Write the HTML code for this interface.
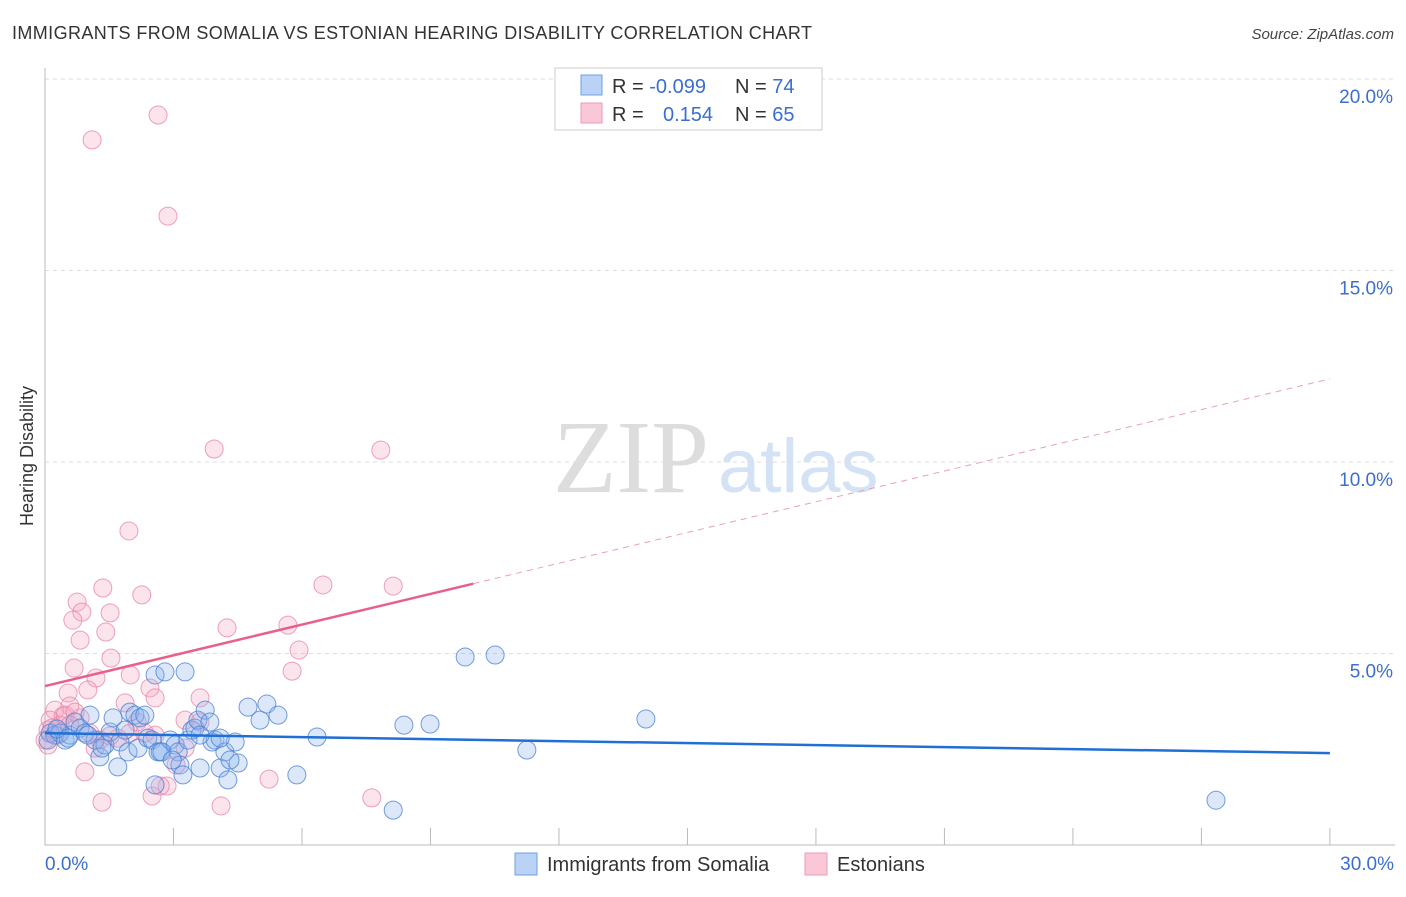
<!DOCTYPE html>
<html><head><meta charset="utf-8"><style>
body{margin:0;background:#fff;font-family:"Liberation Sans",sans-serif;}
</style></head><body>
<svg width="1406" height="892" xmlns="http://www.w3.org/2000/svg" id="chart" style="font-family:'Liberation Sans',sans-serif">
<text x="12" y="39" font-size="18" fill="#333" textLength="800">IMMIGRANTS FROM SOMALIA VS ESTONIAN HEARING DISABILITY CORRELATION CHART</text>
<text x="1394" y="39" font-size="15" fill="#444" text-anchor="end" font-style="italic">Source: ZipAtlas.com</text>
<text x="553" y="492" font-size="104" font-family="Liberation Serif,serif" fill="#ddd">ZIP</text>
<text x="718" y="492" font-size="76" fill="#d3e2f5">atlas</text>
<text transform="translate(33,456) rotate(-90)" font-size="18" fill="#333" text-anchor="middle">Hearing Disability</text>
<g id="grid"></g><g id="ticks"></g><g id="pts"></g><g id="trend"></g>
<g>
<rect x="555" y="68" width="267" height="62" fill="#fff" stroke="#ccc"/>
<rect x="581" y="75" width="21" height="20" fill="#b9d2f5" stroke="#6f9fe0"/>
<rect x="581" y="103" width="21" height="20" fill="#f9c7d6" stroke="#ee9ab4"/>
<text x="612" y="93" font-size="20" fill="#333">R = <tspan fill="#3a6fd0">-0.099</tspan><tspan x="735">N = </tspan><tspan fill="#3a6fd0">74</tspan></text>
<text x="612" y="121" font-size="20" fill="#333">R = <tspan x="663" fill="#3a6fd0">0.154</tspan><tspan x="735">N = </tspan><tspan fill="#3a6fd0">65</tspan></text>
</g>
<g>
<rect x="515" y="853" width="22" height="22" fill="#b9d2f5" stroke="#6f9fe0"/>
<text x="547" y="871" font-size="20" fill="#333">Immigrants from Somalia</text>
<rect x="805" y="853" width="22" height="22" fill="#f9c7d6" stroke="#ee9ab4"/>
<text x="837" y="871" font-size="20" fill="#333">Estonians</text>
</g>
</svg>
<script>
const blueX=[0.12,0.23,0.35,0.47,0.58,0.70,0.82,0.93,1.05,1.17,1.28,1.40,1.52,1.59,1.70,1.75,1.94,1.98,2.10,2.17,2.22,2.33,2.40,2.50,2.57,2.57,2.64,2.69,2.80,2.92,3.04,3.11,3.15,3.22,3.27,3.34,3.43,3.50,3.57,3.62,3.74,3.85,3.90,3.97,4.09,4.20,4.27,4.44,4.51,4.74,5.02,5.18,5.44,5.88,6.35,8.13,8.38,8.99,9.81,10.51,11.25,14.03,27.34,0.07,0.28,0.54,1.00,1.33,1.87,2.73,2.97,3.62,4.09,4.32];
const blueY=[2.92,2.87,2.92,2.74,2.87,3.21,3.05,2.92,3.39,2.74,2.30,2.61,2.95,3.32,2.04,2.69,2.43,3.47,3.39,2.53,3.32,3.39,2.79,2.74,4.44,1.57,2.43,2.43,4.52,2.74,2.61,2.43,2.09,1.83,4.52,2.74,3.00,3.05,3.26,2.01,3.52,3.21,2.69,2.74,2.01,2.43,1.70,2.69,2.14,3.60,3.26,3.68,3.39,1.83,2.82,0.91,3.13,3.16,4.91,4.96,2.48,3.29,1.17,2.74,3.03,2.79,2.87,2.53,3.00,2.43,2.22,2.87,2.79,2.22];
const pinkX=[1.10,2.64,2.87,3.95,7.84,1.96,1.35,2.26,6.49,8.13,0.75,0.86,1.52,0.65,4.25,5.67,0.82,1.42,5.93,1.54,0.68,5.77,1.19,1.99,2.45,1.00,0.54,2.57,3.62,1.87,0.58,0.23,0.42,0.12,0.35,0.07,0.82,3.27,2.15,1.05,1.98,1.28,0.07,1.70,2.57,3.27,1.17,0.93,3.06,5.23,2.85,2.50,1.33,4.11,7.63,0.47,0.70,0.30,0.00,2.33,1.52,3.62,2.69,0.16,0.58];
const pinkY=[18.41,19.06,16.42,10.34,10.31,8.20,6.71,6.53,6.79,6.76,6.34,6.08,6.06,5.87,5.67,5.74,5.35,5.56,5.09,4.88,4.62,4.54,4.36,4.44,4.10,4.05,3.97,3.84,3.84,3.71,3.63,3.52,3.37,3.26,3.13,3.00,3.32,3.26,3.21,2.92,2.92,2.74,2.61,2.79,2.87,2.53,2.53,1.91,2.09,1.72,1.54,1.28,1.12,1.02,1.23,3.39,3.47,2.87,2.74,2.92,2.85,3.21,1.54,3.05,3.13];
const yTicks=[5,10,15,20];
const xTicks=[0,3,6,9,12,15,18,21,24,27,30];
const blueTrend=[2.92,2.40];
const pinkTrend=[4.15,12.17];
const pinkSolidEnd=10;
const sx=v=>45+v*42.83, sy=v=>845-v*38.3;
const NS="http://www.w3.org/2000/svg";
function mk(tag,attrs,parent){const e=document.createElementNS(NS,tag);for(const k in attrs)e.setAttribute(k,attrs[k]);document.getElementById(parent).appendChild(e);return e;}
yTicks.forEach(t=>{
 const l=mk('line',{x1:45,x2:1395,y1:sy(t),y2:sy(t),stroke:'#ddd','stroke-dasharray':'4,4'},'grid');
 
 
 const tx=mk('text',{x:1393,y:sy(t)+24,'font-size':19,fill:'#3a6fd0','text-anchor':'end'},'grid');
 tx.textContent=t.toFixed(1)+'%';
 
 
});
const ax=mk('path',{d:'M45 68V845H1395',fill:'none',stroke:'#bbb'},'grid');


xTicks.forEach(t=>{
 const l=mk('line',{x1:sx(t),x2:sx(t),y1:828,y2:845,stroke:'#bbb'},'ticks');
 
 
});
[[0,'0.0%','start',45],[30,'30.0%','end',1394]].forEach(a=>{
 const tx=mk('text',{x:a[3],y:870,'font-size':19,fill:'#3a6fd0','text-anchor':a[2]},'ticks');
 tx.textContent=a[1];
 
 
});
pinkX.forEach((x,i)=>{
 const c=mk('circle',{cx:sx(x),cy:sy(pinkY[i]),r:9,fill:'rgba(245,165,192,0.3)',stroke:'rgba(232,130,165,0.75)','stroke-width':1},'pts');
 
 
});
blueX.forEach((x,i)=>{
 const c=mk('circle',{cx:sx(x),cy:sy(blueY[i]),r:9,fill:'rgba(140,180,238,0.3)',stroke:'rgba(70,125,210,0.75)','stroke-width':1},'pts');
 
 
});
const bt=mk('line',{x1:sx(0),y1:sy(blueTrend[0]),x2:sx(30),y2:sy(blueTrend[1]),stroke:'#1f6fd6','stroke-width':2.5},'trend');


const pm=pinkTrend[0]+(pinkTrend[1]-pinkTrend[0])*pinkSolidEnd/30;
const pt=mk('line',{x1:sx(0),y1:sy(pinkTrend[0]),x2:sx(pinkSolidEnd),y2:sy(pm),stroke:'#e8608a','stroke-width':2.5},'trend');


const pd=mk('line',{x1:sx(pinkSolidEnd),y1:sy(pm),x2:sx(30),y2:sy(pinkTrend[1]),stroke:'#e8a0b8','stroke-width':1,'stroke-dasharray':'6,5'},'trend');


</script>
</body></html>
